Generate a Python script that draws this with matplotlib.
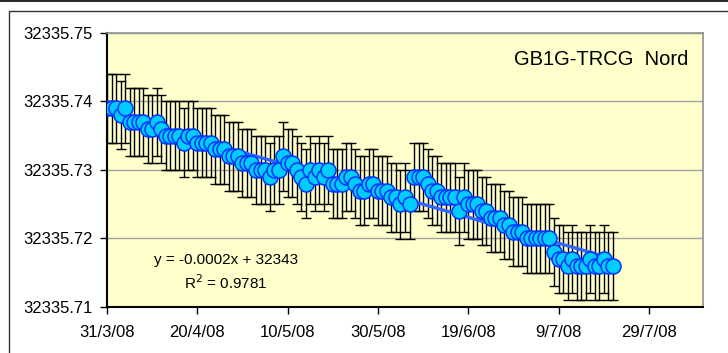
import datetime as dt
import numpy as np
import matplotlib
matplotlib.use("Agg")
import matplotlib.pyplot as plt
import matplotlib.dates as mdates
from matplotlib.lines import Line2D

plt.rcParams['font.family'] = ['Liberation Sans', 'DejaVu Sans']

# ---------------- data ----------------
start_date = dt.datetime(2008, 3, 31)
heights = [
    32335.739, 32335.739, 32335.739, 32335.738, 32335.739,
    32335.737, 32335.737, 32335.737, 32335.737, 32335.736,
    32335.736, 32335.737, 32335.736, 32335.735, 32335.735,
    32335.735, 32335.735, 32335.734, 32335.735, 32335.735,
    32335.734, 32335.734, 32335.734, 32335.734, 32335.733,
    32335.733, 32335.733, 32335.732, 32335.732, 32335.732,
    32335.731, 32335.731, 32335.731, 32335.730, 32335.730,
    32335.730, 32335.729, 32335.730, 32335.730, 32335.732,
    32335.731, 32335.731, 32335.730, 32335.729, 32335.728,
    32335.730, 32335.729, 32335.730, 32335.729, 32335.730,
    32335.728, 32335.728, 32335.728, 32335.729, 32335.729,
    32335.728, 32335.727, 32335.727, 32335.728, 32335.728,
    32335.727, 32335.727, 32335.727, 32335.726, 32335.726,
    32335.725, 32335.726, 32335.725, 32335.729, 32335.729,
    32335.729, 32335.728, 32335.727, 32335.727, 32335.726,
    32335.726, 32335.726, 32335.726, 32335.724, 32335.726,
    32335.725, 32335.725, 32335.725, 32335.724, 32335.724,
    32335.723, 32335.723, 32335.723, 32335.722, 32335.722,
    32335.721, 32335.721, 32335.721, 32335.720, 32335.720,
    32335.720, 32335.720, 32335.720, 32335.720, 32335.718,
    32335.717, 32335.717, 32335.716, 32335.717, 32335.716,
    32335.716, 32335.716, 32335.717, 32335.716, 32335.716,
    32335.717, 32335.716, 32335.716,
]
error_half = 0.005
dates = [start_date + dt.timedelta(days=i) for i in range(len(heights))]

tick_dates = [dt.datetime(2008, 3, 31), dt.datetime(2008, 4, 20), dt.datetime(2008, 5, 10),
              dt.datetime(2008, 5, 30), dt.datetime(2008, 6, 19), dt.datetime(2008, 7, 9),
              dt.datetime(2008, 7, 29)]
tick_labels = ["31/3/08", "20/4/08", "10/5/08", "30/5/08", "19/6/08", "9/7/08", "29/7/08"]
x_end = dt.datetime(2008, 8, 10)

y_ticks = [32335.71, 32335.72, 32335.73, 32335.74, 32335.75]
y_labels = ["32335.71", "32335.72", "32335.73", "32335.74", "32335.75"]

title = "GB1G-TRCG  Nord"
eq_text = "y = -0.0002x + 32343"
r2_text = "R$^2$ = 0.9781"

# ---------------- figure ----------------
W, H = 728, 353
fig = plt.figure(figsize=(W / 100, H / 100), dpi=100)
ax = fig.add_axes([107 / W, 1 - 307 / H, (703 - 107) / W, (307 - 33) / H])
ax.set_facecolor('#FFFFCC')

xn = mdates.date2num(dates)
y = np.array(heights)

ax.errorbar(xn, y, yerr=error_half, fmt='none', ecolor='black', elinewidth=1.0,
            capsize=3.6, capthick=1.0, zorder=2)

coef = np.polyfit(xn, y, 1)
ax.plot([xn[0], xn[-1]], np.polyval(coef, [xn[0], xn[-1]]), color='#3366FF', lw=2.4,
        zorder=3, solid_capstyle='butt')

ax.plot(xn, y, 'o', ms=10.8, mfc='#00CCFF', mec='#0033FF', mew=1.1, zorder=4, ls='none')

ax.set_xlim(mdates.date2num(start_date), mdates.date2num(x_end))
ax.set_ylim(32335.71, 32335.75)
ax.set_xticks(mdates.date2num(tick_dates))
ax.set_xticklabels(tick_labels, fontsize=12)
ax.set_yticks(y_ticks)
ax.set_yticklabels(y_labels, fontsize=12)
ax.tick_params(axis='both', direction='out', length=5, width=1, color='black', pad=5)
ax.tick_params(axis='x', pad=8)

ax.grid(axis='y', color='#A0A0A0', lw=1.0, zorder=0)
ax.set_axisbelow(True)

for s in ['left', 'bottom']:
    ax.spines[s].set_color('black')
    ax.spines[s].set_linewidth(1.5)
for s in ['top', 'right']:
    ax.spines[s].set_color('#909090')
    ax.spines[s].set_linewidth(1.2)

ax.text(0.83, 0.905, title, transform=ax.transAxes, ha='center', va='center', fontsize=14.5)
ax.text(0.2, 0.17, eq_text, transform=ax.transAxes, ha='center', va='center', fontsize=11)
ax.text(0.2, 0.09, r2_text, transform=ax.transAxes, ha='center', va='center', fontsize=11)

# outer frame lines
fig.add_artist(Line2D([0, 1], [1 - 0.7 / H, 1 - 0.7 / H], transform=fig.transFigure,
                      color='black', lw=1.2))
fig.add_artist(Line2D([8.5 / W, 8.5 / W, 1], [0, 1 - 10.5 / H, 1 - 10.5 / H],
                      transform=fig.transFigure, color='#333333', lw=1.0))

fig.savefig('out.png', dpi=100)
